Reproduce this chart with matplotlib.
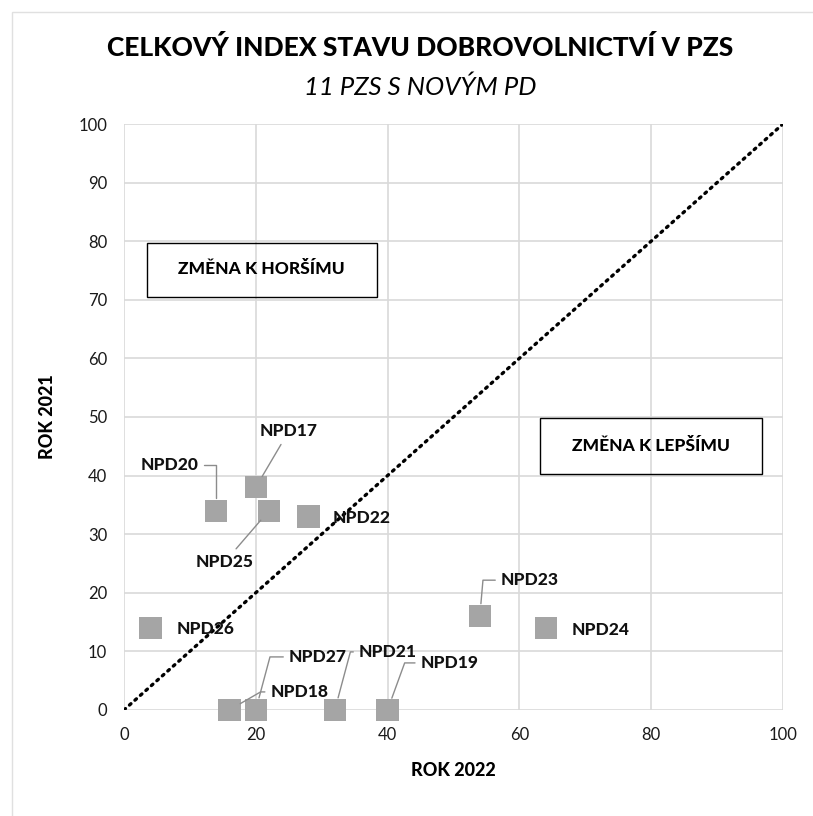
import matplotlib.pyplot as plt
from matplotlib.patches import Rectangle

plt.rcParams['font.family'] = ['Lato', 'DejaVu Sans']

# data
names = ['NPD20', 'NPD17', 'NPD25', 'NPD22', 'NPD26', 'NPD27',
         'NPD18', 'NPD21', 'NPD19', 'NPD23', 'NPD24']
rok2022 = [14, 20, 22, 28, 4, 20, 16, 32, 40, 54, 64]
rok2021 = [34, 38, 34, 33, 14, 0, 0, 0, 0, 16, 14]
diag = [0, 100]

# label placement (pixel offsets) and leader style
offsets = {
    'NPD20': (-47, 46, 'angle,angleA=0,angleB=90,rad=0'),
    'NPD17': (33, 56, 'arc3'),
    'NPD25': (-44, -51, 'arc3'),
    'NPD22': (53, -1, None),
    'NPD26': (55, -1, None),
    'NPD27': (62, 53, 'angle,angleA=0,angleB=75,rad=0'),
    'NPD18': (70, 18, 'angle,angleA=0,angleB=30,rad=0'),
    'NPD21': (53, 58, 'angle,angleA=0,angleB=75,rad=0'),
    'NPD19': (62, 47, 'angle,angleA=0,angleB=70,rad=0'),
    'NPD23': (50, 36, 'angle,angleA=0,angleB=85,rad=0'),
    'NPD24': (55, -2, None),
}

fig = plt.figure(figsize=(8.13, 8.16), dpi=100)
ax = fig.add_axes([0.1525, 0.13, 0.8105, 0.718])

fig.patches.append(Rectangle((0.015, -0.01), 0.99, 0.995, transform=fig.transFigure,
                             fill=False, edgecolor='#E0E0E0', lw=1))

ax.plot(diag, diag, color='black', lw=2.4, linestyle=(0, (0.6, 1.6)),
        dash_capstyle='round', zorder=3)
ax.scatter(rok2022, rok2021, marker='s', s=260, color='#A5A5A5',
           edgecolors='none', zorder=4, clip_on=False)

for n, x, y in zip(names, rok2022, rok2021):
    dx, dy, conn = offsets[n]
    ap = None
    if conn:
        ap = dict(arrowstyle='-', color='#8C8C8C', lw=1, connectionstyle=conn,
                  shrinkA=2, shrinkB=9)
    ax.annotate(n, (x, y), xytext=(dx, dy), textcoords='offset pixels',
                ha='center', va='center', fontsize=12.5, fontweight='black',
                color='#111111', arrowprops=ap, zorder=5)

ax.set_xlim(0, 100)
ax.set_ylim(0, 100)
ax.set_xticks(range(0, 101, 20))
ax.set_yticks(range(0, 101, 10))
ax.grid(True, color='#D9D9D9', lw=1.2)
ax.set_axisbelow(True)
for s in ax.spines.values():
    s.set_visible(False)
ax.tick_params(length=0, labelsize=12, colors='#1a1a1a', pad=12)

ax.set_xlabel('ROK 2022', fontsize=13, fontweight='black', labelpad=14)
ax.set_ylabel('ROK 2021', fontsize=13, fontweight='black', labelpad=16)

ax.text(20.9, 75.2, 'ZMĚNA K HORŠÍMU', ha='center', va='center', fontsize=12.5,
        fontweight='black', zorder=5)
ax.add_patch(Rectangle((3.5, 70.5), 34.9, 9.2, fill=False, edgecolor='black',
                       lw=1, zorder=5))
ax.text(79.9, 45.1, 'ZMĚNA K LEPŠÍMU', ha='center', va='center', fontsize=12.5,
        fontweight='black', zorder=5)
ax.add_patch(Rectangle((63.1, 40.3), 33.7, 9.5, fill=False, edgecolor='black',
                       lw=1, zorder=5))

fig.text(0.517, 0.942, 'CELKOVÝ INDEX STAVU DOBROVOLNICTVÍ V PZS', ha='center',
         va='center', fontsize=19, fontweight='black')
fig.text(0.517, 0.893, '11 PZS S NOVÝM PD', ha='center', va='center',
         fontsize=18.5, style='italic')

fig.savefig('out.png', dpi=100)
